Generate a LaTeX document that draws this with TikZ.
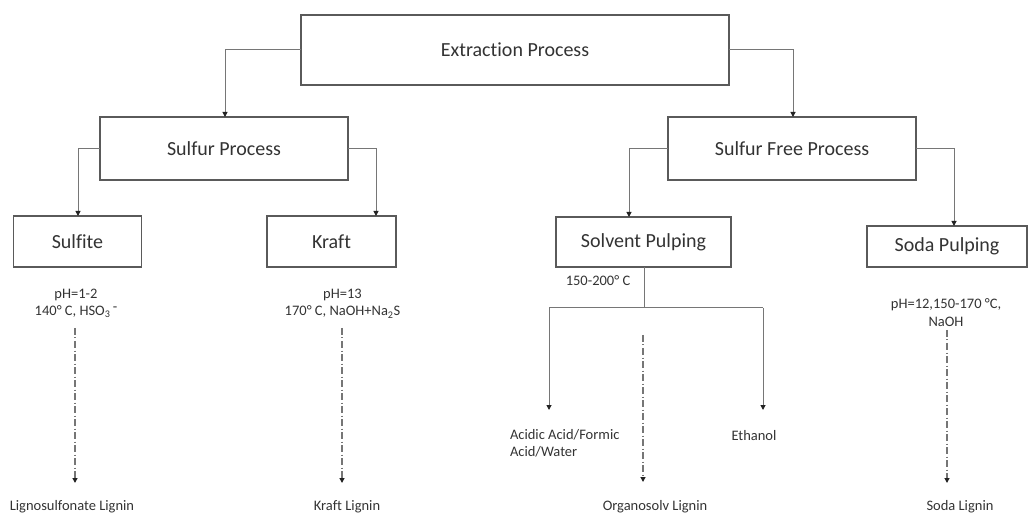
\documentclass[tikz,border=0pt]{standalone}
\usepackage{fontspec}
\setmainfont{Carlito}[Ligatures={NoCommon}]
\usetikzlibrary{arrows.meta}
\definecolor{boxline}{HTML}{5A5A5A}
\definecolor{connline}{HTML}{767676}
\definecolor{tipcol}{HTML}{222222}
\definecolor{txt}{HTML}{333333}
\tikzset{
  procbox/.style={draw=boxline, line width=1.5pt, fill=white, inner sep=0pt, outer sep=0pt,
    text=txt, font=\fontsize{20}{24}\selectfont},
  lbl/.style={inner sep=0pt, outer sep=0pt, text=txt, font=\fontsize{14.5}{17.5}\selectfont, align=center},
  conn/.style={draw=connline, line width=1pt},
  arr/.style={conn, -{Triangle[width=5pt,length=5pt,color=tipcol]}},
  dd/.style={draw=connline, line width=1.2pt, dash pattern=on 7pt off 2.5pt on 1pt off 2.5pt, -{Triangle[width=5pt,length=5pt,color=tipcol]}}
}
\begin{document}
\begin{tikzpicture}[x=1pt,y=-1pt]
\useasboundingbox (0,0) rectangle (1029,513);
% boxes
\node[procbox, minimum width=428pt, minimum height=70pt] (ext) at (515,50) {Extraction Process};
\node[procbox, minimum width=248pt, minimum height=63pt] (sp) at (224,148.5) {Sulfur Process};
\node[procbox, minimum width=248pt, minimum height=63pt] (sfp) at (792,148.5) {Sulfur Free Process};
\node[procbox, minimum width=128pt, minimum height=51pt] (sulfite) at (77.5,241.5) {Sulfite};
\node[procbox, minimum width=129pt, minimum height=51pt] (kraft) at (331.5,241.5) {Kraft};
\node[procbox, minimum width=175pt, minimum height=50pt] (solv) at (643.5,242) {Solvent Pulping};
\node[procbox, minimum width=160pt, minimum height=41pt] (soda) at (947,246.5) {Soda Pulping};
% connectors top
\draw[arr] (ext.west) -| ([xshift=1pt]sp.north);
\draw[arr] (ext.east) -| ([xshift=1pt]sfp.north);
\draw[arr] (sp.west) -| ([xshift=0.5pt]sulfite.north);
\draw[arr] (sp.east) -| ([xshift=44.5pt]kraft.north);
\draw[arr] (sfp.west) -| ([xshift=-14.5pt]solv.north);
\draw[arr] (sfp.east) -| ([xshift=7pt]soda.north);
% labels
\node[lbl] (l1) at (76,303.5) {pH=1-2\\140° C, HSO\textsubscript{3}\raisebox{4pt}{\,-}};
\node[lbl] (l2) at (342.5,303.5) {pH=13\\170° C, NaOH+Na\textsubscript{2}S};
\node[lbl] (l4) at (946,312.5) {pH=12,150-170 °C,\\NaOH};
\node[lbl] (l3) at (598,281) {150-200° C};
% solvent branches
\coordinate (sj) at (644,308);
\coordinate (al) at (549,308);
\coordinate (ar) at (763,308);
\node[lbl, align=left, anchor=north west] (acid) at (510,429) {Acidic Acid/Formic\\Acid/Water};
\node[lbl] (eth) at (754,436) {Ethanol};
\draw[conn] ([xshift=0.5pt]solv.south) -- (sj);
\draw[conn] (al) -- (ar);
\draw[arr] (al) -- (549,410);
\draw[arr] (ar) -- (763,410);
% bottom
\node[lbl] (b1) at (72,507) {Lignosulfonate Lignin};
\node[lbl] (b2) at (347,507) {Kraft Lignin};
\node[lbl] (b3) at (655,507) {Organosolv Lignin};
\node[lbl] (b4) at (960,507) {Soda Lignin};
\draw[dd] (75,328) -- (75,483);
\draw[dd] (342,328) -- (342,483);
\draw[dd] (643,335) -- (643,482);
\draw[dd] (947,330) -- (947,483);
\end{tikzpicture}
\end{document}
